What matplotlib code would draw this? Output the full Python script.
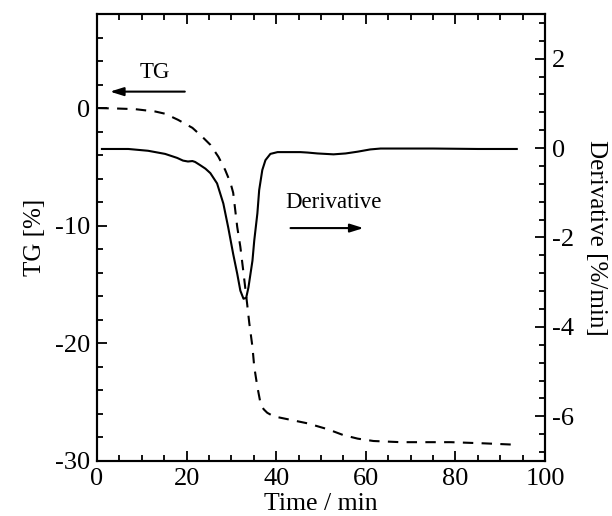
import numpy as np
import matplotlib.pyplot as plt
from matplotlib.ticker import MultipleLocator

plt.rcParams['font.family'] = ['Liberation Serif', 'DejaVu Serif']

# TG curve (left axis)
tg_time = [0.3, 4, 8.5, 13, 15.2, 18.1, 21.3, 23.5, 25.3, 27.1, 28.6, 29.8, 30.4, 31.3,
           32.0, 32.7, 33.5, 34.0, 34.7, 35.1, 35.8, 36.5, 37.2, 38.0, 39.4, 43.2, 47.0,
           51.5, 55.0, 58.2, 61.7, 67.8, 74.5, 79, 86.4, 92.4]
tg_val = [0, -0.03, -0.09, -0.29, -0.48, -1.0, -1.68, -2.44, -3.12, -4.14, -5.25, -6.36, -7.2, -10.1,
          -11.8, -14.0, -16.6, -18.3, -20.3, -22.0, -23.7, -25.1, -25.6, -25.9, -26.2, -26.5, -26.8,
          -27.3, -27.8, -28.1, -28.3, -28.4, -28.4, -28.4, -28.5, -28.6]

# derivative curve (right axis)
dtg_time = [1.1, 7, 11.4, 15.2, 17.9, 19.2, 20.3, 21.3, 21.9, 23.0, 24.2, 25.3, 26.8, 28.2, 29.3,
            30.4, 31.3, 32.0, 32.7, 33.3, 33.8, 34.7, 35.1, 35.8, 36.2, 36.9, 37.6, 38.7,
            40.3, 45.4, 47.0, 49.2, 52.8, 55.5, 58.2, 61.0, 63.3, 75, 85, 93.7]
dtg_val = [-0.02, -0.02, -0.06, -0.13, -0.22, -0.28, -0.30, -0.29, -0.31, -0.38, -0.46, -0.56, -0.79, -1.24, -1.78,
           -2.37, -2.81, -3.19, -3.37, -3.35, -3.12, -2.52, -2.07, -1.46, -0.94, -0.49, -0.27, -0.13,
           -0.09, -0.09, -0.10, -0.12, -0.14, -0.12, -0.08, -0.03, -0.01, -0.01, -0.02, -0.02]

fig = plt.figure(figsize=(6.12, 5.16), dpi=100)
ax = fig.add_axes([0.1585, 0.1066, 0.8905 - 0.1585, 0.9729 - 0.1066])
ax2 = ax.twinx()

ax.plot(tg_time, tg_val, color='black', lw=1.5, linestyle=(0, (5, 4)))
ax2.plot(dtg_time, dtg_val, color='black', lw=1.5)

ax.set_xlim(0, 100)
ax.set_ylim(-30, 8)
ax2.set_ylim(-7, 3)

ax.xaxis.set_major_locator(MultipleLocator(20))
ax.xaxis.set_minor_locator(MultipleLocator(5))
ax.yaxis.set_major_locator(MultipleLocator(10))
ax.yaxis.set_minor_locator(MultipleLocator(2))
ax2.yaxis.set_major_locator(MultipleLocator(2))
ax2.yaxis.set_minor_locator(MultipleLocator(0.4))

ax.tick_params(which='both', direction='in', top=True, right=False, labelsize=19, width=1.3, pad=5)
ax.tick_params(which='major', length=7)
ax.tick_params(which='minor', length=4.5)
ax2.tick_params(which='both', direction='in', labelsize=19, width=1.3, pad=5)
ax2.tick_params(which='major', length=7)
ax2.tick_params(which='minor', length=4.5)

for a in (ax, ax2):
    for s in a.spines.values():
        s.set_linewidth(1.5)

ax.set_xlabel('Time / min', fontsize=18.5, labelpad=2)
ax.set_ylabel('TG [%]', fontsize=18, labelpad=6)
ax2.set_ylabel('Derivative [%/min]', fontsize=18, rotation=-90, labelpad=24)

ax.yaxis.set_major_formatter(plt.FuncFormatter(lambda v, p: '%d' % v))
ax2.yaxis.set_major_formatter(plt.FuncFormatter(lambda v, p: '%d' % v))

arrow = dict(arrowstyle='-|>,head_length=0.8,head_width=0.25', color='black', lw=1.5,
             shrinkA=0, shrinkB=0)
ax.annotate('', xy=(2.9, 1.4), xytext=(19.6, 1.4), arrowprops=arrow)
ax.text(12.9, 3.0, 'TG', fontsize=16.5, ha='center', va='center')
ax.annotate('', xy=(59.5, -10.2), xytext=(43.2, -10.2), arrowprops=arrow)
ax.text(52.7, -8.05, 'Derivative', fontsize=16.5, ha='center', va='center')

fig.savefig('out.png', dpi=100)
